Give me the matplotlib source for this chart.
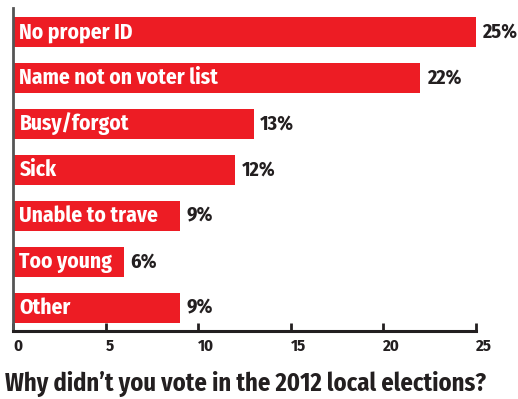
import matplotlib
matplotlib.use("Agg")
import matplotlib.pyplot as plt

# Data
reasons = ["No proper ID", "Name not on voter list", "Busy/forgot", "Sick",
           "Unable to trave", "Too young", "Other"]
percents = [25, 22, 13, 12, 9, 6, 9]
x_ticks = [0, 5, 10, 15, 20, 25]
title = "Why didn\u2019t you vote in the 2012 local elections?"

# condensed bold look, falls back to DejaVu if missing
plt.rcParams['font.family'] = ['Fira Sans Condensed', 'PT Sans Narrow', 'Roboto Condensed',
                               'Asap Condensed', 'Liberation Sans Narrow', 'DejaVu Sans']

RED = "#ED1C24"
DARK = "#231F20"

fig = plt.figure(figsize=(5.18, 3.99), dpi=100)
ax = fig.add_axes([13 / 518, 68 / 399, 463 / 518, 323 / 399])

ypos = list(range(len(reasons)))
ax.barh(ypos, percents, height=0.65, color=RED)

for y, name, val in zip(ypos, reasons, percents):
    ax.text(0.35, y, name, color="white", fontsize=15.5, fontweight="bold",
            va="center", ha="left")
    ax.text(val + 0.35, y, f"{val}%", color=DARK, fontsize=14.5, fontweight="bold",
            va="center", ha="left")

ax.set_xlim(0, 25)
ax.set_ylim(6.5, -0.52)
ax.set_yticks([])
ax.set_xticks(x_ticks)
ax.set_xticklabels([str(t) for t in x_ticks], fontsize=12, fontweight="bold",
                   color=DARK, ha="left")
ax.tick_params(axis="x", direction="in", length=6, width=2, color=DARK, pad=5)

for s in ["top", "right"]:
    ax.spines[s].set_visible(False)
ax.spines["left"].set_color("#555555")
ax.spines["left"].set_linewidth(2)
ax.spines["bottom"].set_color(DARK)
ax.spines["bottom"].set_linewidth(2.2)

fig.text(5 / 518, 15 / 399, title, fontsize=17.6, fontweight="bold",
         color=DARK, ha="left", va="center")

fig.savefig("out.png", dpi=100)
